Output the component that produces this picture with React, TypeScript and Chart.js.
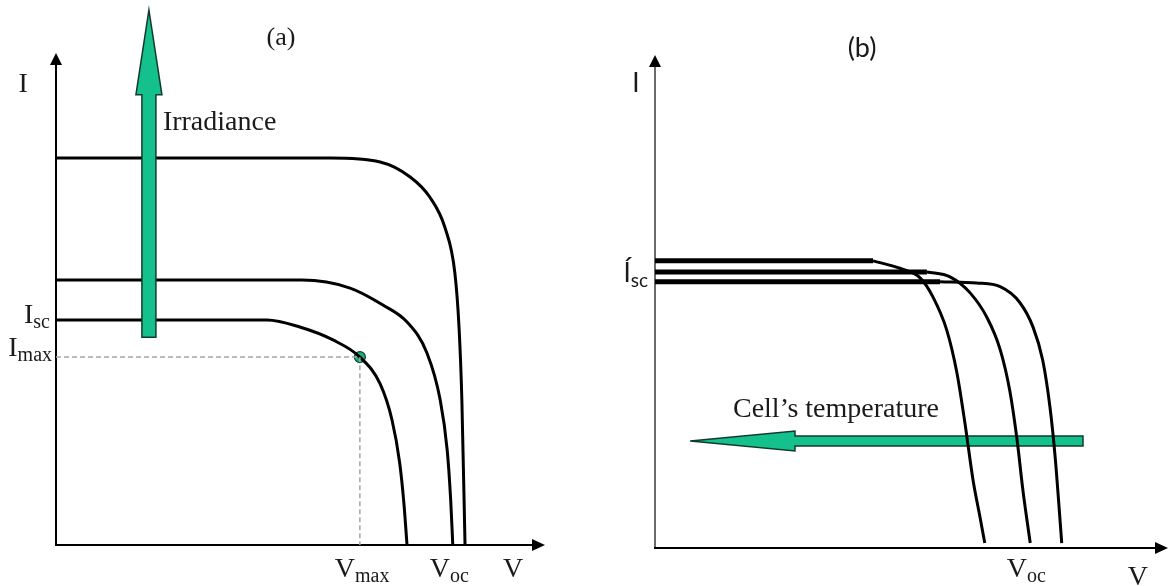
import React, { useEffect, useRef } from "react";
import { Chart, registerables } from "chart.js";
Chart.register(...registerables);

// ---------- Panel (a): I-V curves for three irradiance levels (schematic units) ----------
const highIrrV = [0, 0.392, 0.464, 0.507, 0.535, 0.557, 0.571, 0.577, 0.581, 0.5855];
const highIrrI = [3.146, 3.146, 3.114, 2.992, 2.829, 2.577, 2.211, 1.764, 1.179, 0];
const midIrrV = [0, 0.352, 0.421, 0.468, 0.5025, 0.531, 0.55, 0.56, 0.565, 0.568];
const midIrrI = [2.154, 2.154, 2.089, 1.951, 1.813, 1.561, 1.179, 0.772, 0.366, 0];
const lowIrrV = [0, 0.302, 0.349, 0.3965, 0.435, 0.464, 0.481, 0.492, 0.498, 0.5025];
const lowIrrI = [1.829, 1.829, 1.772, 1.667, 1.528, 1.309, 1.016, 0.667, 0.341, 0];
const mppV = [0.435];
const mppI = [1.528];
// irradiance arrow: [V, I tail, I head base, I tip]
const irradianceArrow = [0.133, 1.69, 3.66, 4.35];

// ---------- Panel (b): I-V curves for three cell temperatures ----------
const hotFlatV = [0, 0.2975];
const hotFlatI = [2.33, 2.33];
const hotV = [0.2975, 0.334, 0.362, 0.379, 0.398, 0.412, 0.423, 0.434, 0.4435, 0.45];
const hotI = [2.33, 2.27, 2.19, 2.04, 1.77, 1.42, 1.01, 0.55, 0.25, 0.04];
const warmFlatV = [0, 0.371];
const warmFlatI = [2.24, 2.24];
const warmV = [0.371, 0.4025, 0.43, 0.453, 0.471, 0.484, 0.494, 0.502, 0.512];
const warmI = [2.24, 2.2, 2.07, 1.87, 1.61, 1.28, 0.88, 0.47, 0.04];
const coolFlatV = [0, 0.389];
const coolFlatI = [2.16, 2.16];
const coolV = [0.389, 0.439, 0.471, 0.498, 0.516, 0.529, 0.539, 0.546, 0.553, 0.555];
const coolI = [2.16, 2.15, 2.12, 1.99, 1.79, 1.525, 1.14, 0.74, 0.2, 0.04];
// temperature arrow: [I, V tail, V head base, V tip]
const temperatureArrow = [0.868, 0.584, 0.191, 0.048];

const V_MAX = 0.7;
const I_MAX = 4;

const SERIF = '"Liberation Serif", "DejaVu Serif", serif';
const SANS = 'Lato, "Noto Sans", sans-serif';
const GREEN = "#14c08c";
const GREEN_EDGE = "#123a2c";

const pts = (xs: number[], ys: number[]) => xs.map((x, i) => ({ x, y: ys[i] }));

type Lbl = {
  v: number;
  i: number;
  main: string;
  sub?: string;
  font: string;
  subFont?: string;
  align: "left" | "center" | "right";
  subDrop?: number;
};

function drawLabel(ctx: CanvasRenderingContext2D, chart: any, l: Lbl) {
  const x = chart.scales.x.getPixelForValue(l.v);
  const y = chart.scales.y.getPixelForValue(l.i);
  ctx.save();
  ctx.fillStyle = "#1a1a1a";
  ctx.textBaseline = "alphabetic";
  ctx.textAlign = "left";
  ctx.font = l.font;
  const wm = ctx.measureText(l.main).width;
  let ws = 0;
  if (l.sub) {
    ctx.font = l.subFont || l.font;
    ws = ctx.measureText(l.sub).width;
  }
  const total = wm + ws;
  let x0 = x;
  if (l.align === "center") x0 = x - total / 2;
  if (l.align === "right") x0 = x - total;
  ctx.font = l.font;
  ctx.fillText(l.main, x0, y);
  if (l.sub) {
    ctx.font = l.subFont || l.font;
    ctx.fillText(l.sub, x0 + wm, y + (l.subDrop ?? 5));
  }
  ctx.restore();
}

function drawAxes(ctx: CanvasRenderingContext2D, chart: any, color: string, yColor: string) {
  const { right, top } = chart.chartArea;
  const ox = chart.scales.x.getPixelForValue(0);
  const oy = chart.scales.y.getPixelForValue(0);
  ctx.save();
  ctx.lineWidth = 2;
  ctx.strokeStyle = yColor;
  ctx.beginPath();
  ctx.moveTo(ox, oy + 1);
  ctx.lineTo(ox, top + 10);
  ctx.stroke();
  ctx.strokeStyle = color;
  ctx.beginPath();
  ctx.moveTo(ox - 1, oy);
  ctx.lineTo(right - 10, oy);
  ctx.stroke();
  ctx.fillStyle = "#000";
  ctx.beginPath();
  ctx.moveTo(ox, top);
  ctx.lineTo(ox - 6, top + 12);
  ctx.lineTo(ox + 6, top + 12);
  ctx.closePath();
  ctx.fill();
  ctx.beginPath();
  ctx.moveTo(right, oy);
  ctx.lineTo(right - 13, oy - 6);
  ctx.lineTo(right - 13, oy + 6);
  ctx.closePath();
  ctx.fill();
  ctx.restore();
}

function greenArrow(
  ctx: CanvasRenderingContext2D,
  tail: [number, number],
  base: [number, number],
  tip: [number, number],
  shaftHalf: number,
  headHalf: number
) {
  const dx = tip[0] - tail[0];
  const dy = tip[1] - tail[1];
  const len = Math.hypot(dx, dy);
  const ux = dx / len;
  const uy = dy / len;
  const nx = -uy;
  const ny = ux;
  ctx.save();
  ctx.fillStyle = GREEN;
  ctx.strokeStyle = GREEN_EDGE;
  ctx.lineWidth = 1.5;
  ctx.lineJoin = "miter";
  ctx.beginPath();
  ctx.moveTo(tail[0] + nx * shaftHalf, tail[1] + ny * shaftHalf);
  ctx.lineTo(base[0] + nx * shaftHalf, base[1] + ny * shaftHalf);
  ctx.lineTo(base[0] + nx * headHalf, base[1] + ny * headHalf);
  ctx.lineTo(tip[0], tip[1]);
  ctx.lineTo(base[0] - nx * headHalf, base[1] - ny * headHalf);
  ctx.lineTo(base[0] - nx * shaftHalf, base[1] - ny * shaftHalf);
  ctx.lineTo(tail[0] - nx * shaftHalf, tail[1] - ny * shaftHalf);
  ctx.closePath();
  ctx.fill();
  ctx.stroke();
  ctx.restore();
}

const curve = (data: any[], width: number) => ({
  data,
  showLine: true,
  borderColor: "#000",
  borderWidth: width,
  pointRadius: 0,
  cubicInterpolationMode: "monotone" as const,
  fill: false,
});

function baseOptions(padding: any) {
  return {
    responsive: false,
    animation: false as const,
    events: [] as any[],
    layout: { padding },
    plugins: { legend: { display: false }, tooltip: { enabled: false }, title: { display: false } },
    scales: {
      x: { type: "linear" as const, min: 0, max: V_MAX, display: false },
      y: { type: "linear" as const, min: 0, max: I_MAX, display: false },
    },
  };
}

export default function App() {
  const refA = useRef<HTMLCanvasElement | null>(null);
  const refB = useRef<HTMLCanvasElement | null>(null);

  useEffect(() => {
    document.body.style.margin = "0";
    document.body.style.background = "#fff";

    const mainFont = `28px ${SERIF}`;
    const subFont = `20px ${SERIF}`;

    const labelsA: Lbl[] = [
      { v: 0.322, i: 4.065, main: "(a)", font: `26px ${SERIF}`, align: "center" },
      { v: -0.047, i: 3.683, main: "I", font: mainFont, align: "center" },
      { v: 0.153, i: 3.374, main: "Irradiance", font: mainFont, align: "left" },
      { v: -0.0086, i: 1.805, main: "I", sub: "sc", font: mainFont, subFont, align: "right" },
      { v: -0.0057, i: 1.537, main: "I", sub: "max", font: mainFont, subFont, align: "right" },
      { v: 0.399, i: -0.26, main: "V", sub: "max", font: mainFont, subFont, align: "left" },
      { v: 0.535, i: -0.26, main: "V", sub: "oc", font: mainFont, subFont, align: "left" },
      { v: 0.64, i: -0.26, main: "V", font: mainFont, align: "left" },
    ];

    const pluginA = {
      id: "diagramA",
      beforeDatasetsDraw(chart: any) {
        drawAxes(chart.ctx, chart, "#000", "#000");
      },
      afterDatasetsDraw(chart: any) {
        const ctx = chart.ctx;
        const xs = chart.scales.x;
        const ys = chart.scales.y;
        const ax = xs.getPixelForValue(irradianceArrow[0]);
        greenArrow(
          ctx,
          [ax, ys.getPixelForValue(irradianceArrow[1])],
          [ax, ys.getPixelForValue(irradianceArrow[2])],
          [ax, ys.getPixelForValue(irradianceArrow[3])],
          7,
          13
        );
        labelsA.forEach((l) => drawLabel(ctx, chart, l));
      },
    };

    const chartA = new Chart(refA.current as HTMLCanvasElement, {
      type: "scatter",
      data: {
        datasets: [
          {
            data: [
              { x: 0, y: mppI[0] },
              { x: mppV[0], y: mppI[0] },
              { x: mppV[0], y: 0 },
            ],
            showLine: true,
            borderColor: "#a8a8a8",
            borderWidth: 1.5,
            borderDash: [5, 3],
            pointRadius: 0,
          } as any,
          curve(pts(highIrrV, highIrrI), 3),
          curve(pts(midIrrV, midIrrI), 3),
          curve(pts(lowIrrV, lowIrrI), 3),
          {
            data: pts(mppV, mppI),
            pointRadius: 5.5,
            pointBackgroundColor: "#17b07e",
            pointBorderColor: "#0d3d2c",
            pointBorderWidth: 1.2,
            showLine: false,
          } as any,
        ],
      },
      options: baseOptions({ left: 56, right: 41, top: 53, bottom: 41 }) as any,
      plugins: [pluginA],
    });

    const labelsB: Lbl[] = [
      { v: 0.2825, i: 3.984, main: "(b)", font: `27px ${SANS}`, align: "center" },
      { v: -0.031, i: 3.7, main: "I", font: `26px ${SANS}`, align: "left" },
      { v: -0.0096, i: 2.158, main: "Í", sub: "sc", font: `26px ${SANS}`, subFont: `19px ${SANS}`, align: "right" },
      { v: 0.1064, i: 1.063, main: "Cell’s temperature", font: mainFont, align: "left" },
      { v: 0.48, i: -0.235, main: "V", sub: "oc", font: mainFont, subFont, align: "left" },
      { v: 0.645, i: -0.3, main: "V", font: mainFont, align: "left" },
    ];

    const pluginB = {
      id: "diagramB",
      beforeDatasetsDraw(chart: any) {
        const ctx = chart.ctx;
        drawAxes(ctx, chart, "#000", "#6a6a6a");
        const xs = chart.scales.x;
        const ys = chart.scales.y;
        const ay = ys.getPixelForValue(temperatureArrow[0]);
        greenArrow(
          ctx,
          [xs.getPixelForValue(temperatureArrow[1]), ay],
          [xs.getPixelForValue(temperatureArrow[2]), ay],
          [xs.getPixelForValue(temperatureArrow[3]), ay],
          5,
          10
        );
      },
      afterDatasetsDraw(chart: any) {
        labelsB.forEach((l) => drawLabel(chart.ctx, chart, l));
      },
    };

    const chartB = new Chart(refB.current as HTMLCanvasElement, {
      type: "scatter",
      data: {
        datasets: [
          curve(pts(hotFlatV, hotFlatI), 5),
          curve(pts(warmFlatV, warmFlatI), 5),
          curve(pts(coolFlatV, coolFlatI), 5),
          curve(pts(hotV, hotI), 3),
          curve(pts(warmV, warmI), 3),
          curve(pts(coolV, coolI), 3),
        ] as any,
      },
      options: baseOptions({ left: 69, right: 3, top: 55, bottom: 38 }) as any,
      plugins: [pluginB],
    });

    return () => {
      chartA.destroy();
      chartB.destroy();
    };
  }, []);

  return (
    <div style={{ position: "relative", width: 1171, height: 586, background: "#fff" }}>
      <canvas ref={refA} width={586} height={586} style={{ position: "absolute", left: 0, top: 0 }} />
      <canvas ref={refB} width={585} height={586} style={{ position: "absolute", left: 586, top: 0 }} />
    </div>
  );
}
